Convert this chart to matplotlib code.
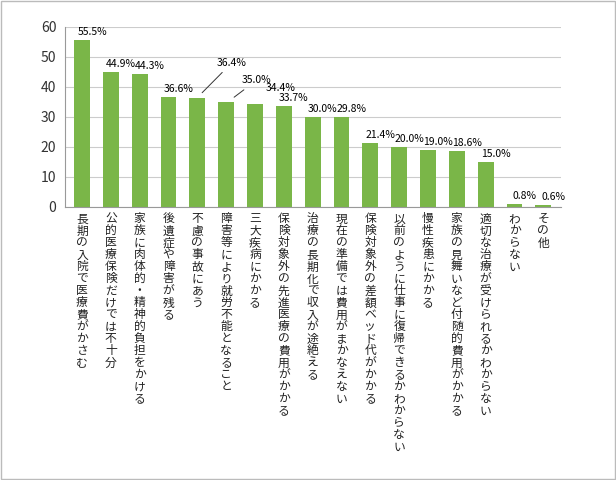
import matplotlib
matplotlib.use("Agg")
import matplotlib.pyplot as plt

plt.rcParams["font.family"] = "Noto Sans CJK JP"

categories = ["長期の入院で医療費がかさむ", "公的医療保険だけでは不十分", "家族に肉体的・精神的負担をかける",
              "後遺症や障害が残る", "不慮の事故にあう", "障害等により就労不能となること", "三大疾病にかかる",
              "保険対象外の先進医療の費用がかかる", "治療の長期化で収入が途絶える", "現在の準備では費用がまかなえない",
              "保険対象外の差額ベッド代がかかる", "以前のように仕事に復帰できるかわからない", "慢性疾患にかかる",
              "家族の見舞いなど付随的費用がかかる", "適切な治療が受けられるかわからない", "わからない", "その他"]
values = [55.5, 44.9, 44.3, 36.6, 36.4, 35.0, 34.4, 33.7, 30.0, 29.8, 21.4, 20.0, 19.0, 18.6, 15.0, 0.8, 0.6]
yticks = [0, 10, 20, 30, 40, 50, 60]

fig = plt.figure(figsize=(6.16, 4.8), dpi=100)
fig.patches.append(plt.Rectangle((0.002, 0.002), 0.996, 0.996, transform=fig.transFigure,
                                 fill=False, edgecolor="#bbbbbb", lw=1))
ax = fig.add_axes([0.105, 0.569, 0.805, 0.375])
x = list(range(len(values)))
ax.bar(x, values, width=0.55, color="#7ab648", zorder=2)
ax.set_xlim(-0.6, len(values) - 0.4)
ax.set_ylim(0, 60)
ax.set_yticks(yticks)
ax.tick_params(axis="y", labelsize=10, length=0, pad=6, colors="#333333")
ax.grid(axis="y", color="#cccccc", lw=0.8, zorder=0)
for s in ["top", "right"]:
    ax.spines[s].set_visible(False)
ax.spines["left"].set_color("#999999")
ax.spines["bottom"].set_color("#999999")
ax.set_xticks(x)
ax.set_xticklabels(["\n".join(c) for c in categories], fontsize=8.5, va="top",
                   linespacing=0.9, color="#222222")
ax.tick_params(axis="x", length=0, pad=4)

for i, v in enumerate(values):
    if i == 4:
        ax.annotate(f"{v:.1f}%", xy=(i + 0.1, v + 1), xytext=(i + 1.2, v + 10),
                    ha="center", va="bottom", fontsize=7.5,
                    arrowprops=dict(arrowstyle="-", color="#333333", lw=0.7))
    elif i == 5:
        ax.annotate(f"{v:.1f}%", xy=(i + 0.2, v + 1), xytext=(i + 1.05, v + 5.5),
                    ha="center", va="bottom", fontsize=7.5,
                    arrowprops=dict(arrowstyle="-", color="#333333", lw=0.7))
    elif i == 6:
        ax.text(i + 0.9, v + 3.5, f"{v:.1f}%", ha="center", va="bottom", fontsize=7.5)
    else:
        ax.text(i + 0.35, v + 1, f"{v:.1f}%", ha="center", va="bottom", fontsize=7.5)

fig.savefig("out.png", dpi=100)
